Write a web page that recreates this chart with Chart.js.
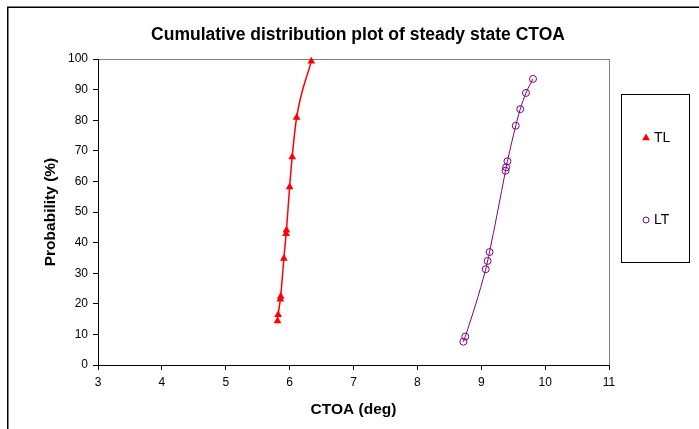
<!DOCTYPE html>
<html>
<head>
<meta charset="utf-8">
<script src="https://cdn.jsdelivr.net/npm/chart.js@4/dist/chart.umd.min.js"></script>
<style>
  html, body { margin: 0; padding: 0; background: #fff; }
  canvas { display: block; }
</style>
</head>
<body>
<canvas id="cdfChart" width="699" height="429"></canvas>
<script>
// Valores (CTOA en grados, probabilidad en %)
const tlCtoa = [5.81, 5.82, 5.855, 5.86, 5.91, 5.945, 5.95, 6.00, 6.04, 6.11, 6.34];
const tlProb = [14.4, 16.4, 21.5, 22.4, 34.8, 42.9, 44.0, 58.2, 68.0, 80.9, 99.3];

const ltCtoa = [8.72, 8.75, 9.07, 9.10, 9.13, 9.38, 9.39, 9.41, 9.54, 9.61, 9.70, 9.81];
const ltProb = [7.6, 9.3, 31.3, 34.0, 36.9, 63.5, 64.6, 66.6, 78.2, 83.6, 88.9, 93.5];

const xTicks = [3, 4, 5, 6, 7, 8, 9, 10, 11];
const yTicks = [0, 10, 20, 30, 40, 50, 60, 70, 80, 90, 100];

const seriesNames = ['TL', 'LT'];
const COLORS = { tl: '#ff0000', lt: '#800080', frame: '#808080', axis: '#000000' };

function toPoints(xs, ys) {
    return xs.map((x, i) => ({ x: x, y: ys[i] }));
}

// Marco exterior, borde del área de trazado, título y leyenda en caja
const decorPlugin = {
    id: 'decor',
    beforeDraw(chart) {
        const ctx = chart.ctx;
        const a = chart.chartArea;
        ctx.save();
        ctx.strokeStyle = '#000';
        ctx.lineWidth = 1.5;
        ctx.strokeRect(7.75, 7.25, 720, 440);
        ctx.strokeStyle = COLORS.frame;
        ctx.lineWidth = 1;
        ctx.strokeRect(a.left + 0.5, a.top + 0.5, a.right - a.left, a.bottom - a.top);
        ctx.restore();
    },
    afterDraw(chart) {
        const ctx = chart.ctx;
        ctx.save();
        ctx.fillStyle = '#000';
        ctx.font = 'bold 17.5px "Liberation Sans", Arial, sans-serif';
        ctx.textAlign = 'center';
        ctx.textBaseline = 'alphabetic';
        ctx.fillText('Cumulative distribution plot of steady state CTOA', 358, 40);

        // Leyenda
        ctx.strokeStyle = '#000';
        ctx.lineWidth = 1;
        ctx.strokeRect(621.5, 94.5, 68, 168);
        ctx.font = '14px "Liberation Sans", Arial, sans-serif';
        ctx.textAlign = 'left';
        ctx.textBaseline = 'middle';

        const r = 4.5;
        ctx.fillStyle = COLORS.tl;
        ctx.beginPath();
        ctx.moveTo(646, 138 - r);
        ctx.lineTo(646 + r * 0.866, 138 + r * 0.5);
        ctx.lineTo(646 - r * 0.866, 138 + r * 0.5);
        ctx.closePath();
        ctx.fill();
        ctx.fillStyle = '#000';
        ctx.fillText(seriesNames[0], 654, 138);

        ctx.strokeStyle = COLORS.lt;
        ctx.beginPath();
        ctx.arc(646, 220, 3, 0, Math.PI * 2);
        ctx.stroke();
        ctx.fillStyle = '#000';
        ctx.fillText(seriesNames[1], 654, 220);
        ctx.restore();
    }
};

const fontTicks = { family: '"Liberation Sans", Arial, sans-serif', size: 12 };
const fontTitle = { family: '"Liberation Sans", Arial, sans-serif', size: 15.5, weight: 'bold' };

new Chart(document.getElementById('cdfChart').getContext('2d'), {
    type: 'scatter',
    data: {
        datasets: [
            {
                label: seriesNames[0],
                data: toPoints(tlCtoa, tlProb),
                showLine: true,
                cubicInterpolationMode: 'monotone',
                borderColor: COLORS.tl,
                backgroundColor: COLORS.tl,
                borderWidth: 1.5,
                pointStyle: 'triangle',
                pointRadius: 4.5,
                pointBorderWidth: 0,
                clip: false
            },
            {
                label: seriesNames[1],
                data: toPoints(ltCtoa, ltProb),
                showLine: true,
                cubicInterpolationMode: 'monotone',
                borderColor: COLORS.lt,
                backgroundColor: 'rgba(0,0,0,0)',
                pointBorderColor: COLORS.lt,
                borderWidth: 1,
                pointStyle: 'circle',
                pointRadius: 3.5,
                pointBorderWidth: 1,
                clip: false
            }
        ]
    },
    options: {
        responsive: false,
        animation: false,
        layout: { padding: { left: 0, top: 59, right: 90, bottom: 0 } },
        plugins: {
            legend: { display: false },
            tooltip: { enabled: false }
        },
        scales: {
            x: {
                type: 'linear',
                min: 3,
                max: 11,
                afterBuildTicks: scale => { scale.ticks = xTicks.map(v => ({ value: v })); },
                afterFit: scale => { scale.height = 64; },
                ticks: { color: '#000', font: fontTicks, padding: 5 },
                grid: { drawOnChartArea: false, tickLength: 5, color: COLORS.axis },
                border: { color: COLORS.axis, width: 1 },
                title: { display: true, text: 'CTOA (deg)', color: '#000', font: fontTitle, padding: { top: 0, bottom: 10 } }
            },
            y: {
                type: 'linear',
                min: 0,
                max: 100,
                afterBuildTicks: scale => { scale.ticks = yTicks.map(v => ({ value: v })); },
                afterFit: scale => { scale.width = 98; },
                ticks: { color: '#000', font: fontTicks, padding: 5 },
                grid: { drawOnChartArea: false, tickLength: 5, color: COLORS.axis },
                border: { color: COLORS.axis, width: 1 },
                title: { display: true, text: 'Probability (%)', color: '#000', font: fontTitle, padding: { top: 41, bottom: 0 } }
            }
        }
    },
    plugins: [decorPlugin]
});
</script>
</body>
</html>
